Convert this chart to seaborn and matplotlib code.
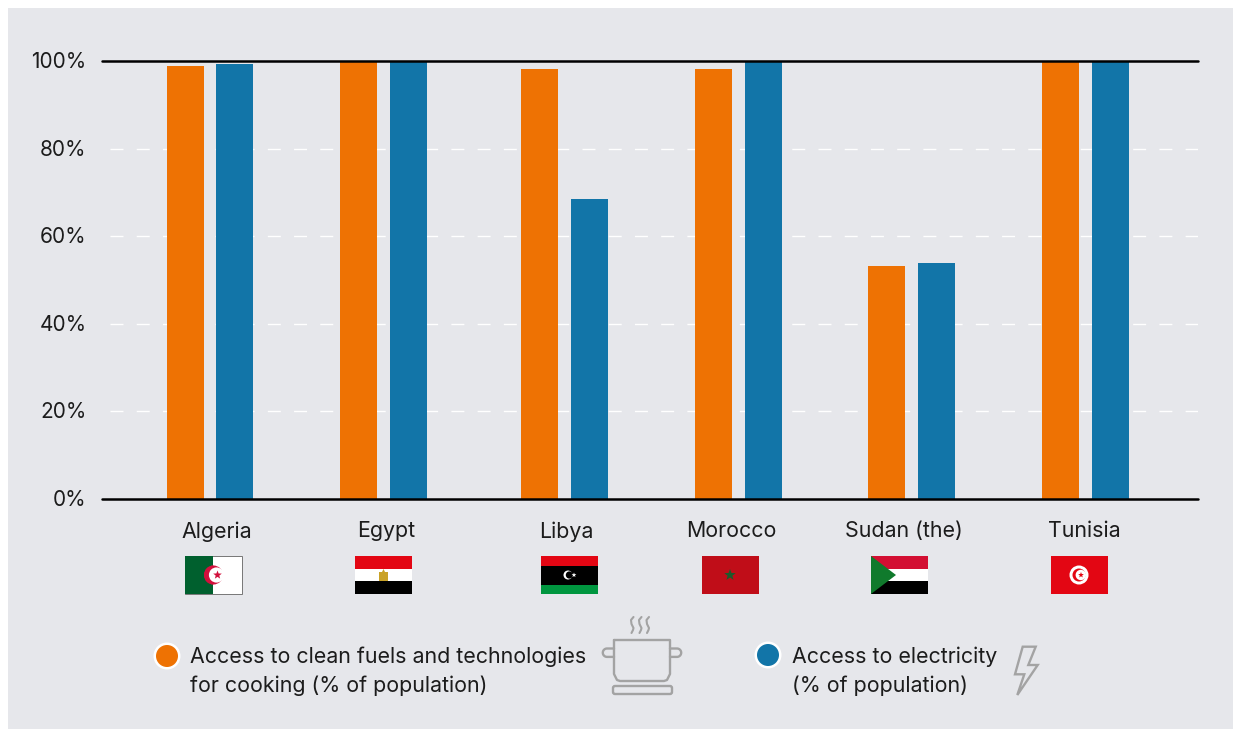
import numpy as np
import pandas as pd
import matplotlib
matplotlib.use("Agg")
import matplotlib.pyplot as plt
from matplotlib.patches import Rectangle, Polygon, Circle, FancyBboxPatch, Wedge
from matplotlib.transforms import ScaledTranslation
import seaborn as sns

# ==============================
# DATA
# ==============================
countries = ["Algeria", "Egypt", "Libya", "Morocco", "Sudan (the)", "Tunisia"]
cooking = [98.9, 100, 98.2, 98.2, 53.1, 100]
electricity = [99.3, 100, 68.5, 100, 53.8, 100]
y_ticks = [0, 20, 40, 60, 80, 100]
series_names = ["Access to clean fuels and technologies\nfor cooking (% of population)",
                "Access to electricity\n(% of population)"]

ORANGE = "#ee7203"
BLUE = "#1275a8"
PANEL = "#e6e7eb"
TEXT = "#1c1c1c"
ICON = "#a3a3a3"
FS = 15.4

W, H = 1234, 729

df = pd.DataFrame({
    "country": countries * 2,
    "value": cooking + electricity,
    "series": [series_names[0]] * 6 + [series_names[1]] * 6,
})

sns.set_theme(style="white")
plt.rcParams["font.family"] = ["Inter", "DejaVu Sans"]

fig = plt.figure(figsize=(W / 100, H / 100), dpi=100, facecolor="white")

# ==============================
# BACKGROUND LAYER (pixel coordinates)
# ==============================
bg = fig.add_axes([0, 0, 1, 1], zorder=0)
bg.set_xlim(0, W)
bg.set_ylim(H, 0)
bg.axis("off")
bg.add_patch(Rectangle((8, 8), W - 9, H - 8, color=PANEL, lw=0))

# ==============================
# BARS
# ==============================
left, right, top, base = 102, 1198, 61, 498.5
ax = fig.add_axes([left / W, 1 - base / H, (right - left) / W, (base - top) / H], zorder=1)
ax.patch.set_alpha(0)

sns.barplot(data=df, x="country", y="value", hue="series", order=countries,
            hue_order=series_names, palette=[ORANGE, BLUE], width=0.565, gap=0.253,
            saturation=1, legend=False, ax=ax, zorder=2, linewidth=0)

first_px, step_px = 209, 175.2
ax.set_xlim((left - first_px) / step_px, (right - first_px) / step_px)
ax.set_ylim(0, 100)

# groups are not quite evenly spaced in the original
nudge_px = [1, -0.5, 5, 4, 1.7, 0.5]
for container in ax.containers:
    for bar, n in zip(container, nudge_px):
        bar.set_x(bar.get_x() + n / step_px)

# country labels sit a little off the bar centres
label_px = [217, 386, 566, 731, 904, 1084]
ax.set_xticks([(p - first_px) / step_px for p in label_px])
ax.set_xticklabels(countries)
ax.set_yticks(y_ticks)
ax.set_yticklabels([f"{v}%" for v in y_ticks])
ax.tick_params(axis="x", length=0, pad=16.5, labelsize=FS, labelcolor=TEXT)
ax.tick_params(axis="y", length=0, pad=11, labelsize=15, labelcolor=TEXT)
ax.set_xlabel("")
ax.set_ylabel("")

# y labels sit slightly above their gridlines
lift = ScaledTranslation(0, 0.7 / 100, fig.dpi_scale_trans)
for lab in ax.get_yticklabels():
    lab.set_transform(lab.get_transform() + lift)

for s in ["left", "right", "top", "bottom"]:
    ax.spines[s].set_visible(False)

# dashed white grid, solid black at 0 and 100
for v in y_ticks[1:-1]:
    ax.axhline(v, color="white", lw=1.0, ls=(13.12, (9.35, 9.53)), zorder=1)
ax.axhline(0, color="black", lw=1.8, zorder=3, clip_on=False)
ax.axhline(100, color="black", lw=1.8, zorder=3, clip_on=False)


# ==============================
# FLAGS
# ==============================
def stripes(x, colors, y=556, w=57, h=38, shares=None):
    shares = shares or [1 / len(colors)] * len(colors)
    cur = y
    for c, s in zip(colors, shares):
        bg.add_patch(Rectangle((x, cur), w, h * s, color=c, lw=0))
        cur += h * s


def crescent(cx, cy, r, color, cover, shift):
    bg.add_patch(Circle((cx, cy), r, color=color, lw=0))
    bg.add_patch(Circle((cx + shift, cy), r * 0.8, color=cover, lw=0))


def star(cx, cy, r, color):
    angles = np.deg2rad(-90 + 36 * np.arange(10))
    radii = np.where(np.arange(10) % 2 == 0, r, r * 0.42)
    bg.add_patch(Polygon(np.c_[cx + radii * np.cos(angles), cy + radii * np.sin(angles)],
                         color=color, lw=0))


# Algeria
bg.add_patch(Rectangle((185, 556), 57, 38, facecolor="white", edgecolor="#777777", lw=0.7))
bg.add_patch(Rectangle((185, 556), 28, 38, color="#00602e", lw=0))
crescent(213.5, 575, 9.5, "#d2103c", "white", 3)
bg.add_patch(Wedge((213.5, 575), 9.5, 90, 270, width=2, color="#d2103c", lw=0))
star(217.5, 575, 4.5, "#d2103c")

# Egypt
stripes(355, ["#e30613", "white", "black"])
bg.add_patch(Polygon([(379, 581), (379, 572), (382, 572), (383.5, 569), (385, 572), (388, 572), (388, 581)],
                     color="#c9a227", lw=0))

# Libya
stripes(541, ["#e30613", "black", "#00963f"], shares=[0.25, 0.5, 0.25])
crescent(568, 575, 4.5, "white", "black", 1.4)
star(574, 575, 2.5, "white")

# Morocco
stripes(702, ["#c00d18"])
star(730, 575, 6, "#1d5a2b")

# Sudan
stripes(871, ["#d30f32", "white", "black"])
bg.add_patch(Polygon([(871, 556), (896, 575), (871, 594)], color="#107a2c", lw=0))

# Tunisia
stripes(1051, ["#e30613"])
bg.add_patch(Circle((1079, 575), 9.5, color="white", lw=0))
crescent(1079, 575, 6.5, "#e30613", "white", 1.8)
star(1081, 575, 3, "#e30613")

# ==============================
# LEGEND
# ==============================
for cx, cy, c in [(167, 656, ORANGE), (768, 655, BLUE)]:
    bg.add_patch(Circle((cx, cy), 13.5, color="white", lw=0))
    bg.add_patch(Circle((cx, cy), 11, color=c, lw=0))

bg.text(190, 671.5, series_names[0], fontsize=FS, color=TEXT, va="center", ha="left", linespacing=1.52)
bg.text(792, 671, series_names[1], fontsize=FS, color=TEXT, va="center", ha="left", linespacing=1.52)

# ==============================
# ICONS
# ==============================
lw = 1.7
# pot
bg.plot([614, 614, 617, 620, 664, 667, 670, 670, 614], [640, 674, 680, 681, 681, 680, 674, 640, 640],
        color=ICON, lw=lw, solid_joinstyle="round")
# handles, open towards the pot
th = np.linspace(np.pi / 2, 3 * np.pi / 2, 20)
bg.plot(np.r_[614, 607 + 4.2 * np.cos(th), 614], np.r_[648.5, 652.7 - 4.2 * np.sin(th), 656.9],
        color=ICON, lw=lw)
bg.plot(np.r_[670, 677 - 4.2 * np.cos(th), 670], np.r_[648.5, 652.7 - 4.2 * np.sin(th), 656.9],
        color=ICON, lw=lw)
bg.add_patch(FancyBboxPatch((615, 688), 55, 4, boxstyle="round,pad=2", fc="none", ec=ICON, lw=lw))
# steam
t = [617, 620, 624, 628, 630, 633]
for x0 in [632, 640, 647.5]:
    bg.plot([x0 + 1.5, x0 - 1, x0 - 0.5, x0 + 1.5, x0 + 1, x0 - 0.5], t, color=ICON, lw=1.5)
# lightning
bg.add_patch(Polygon([(1022.7, 646.7), (1035.7, 646.7), (1028.3, 665), (1037.7, 665),
                      (1017.3, 695), (1024.3, 674.3), (1015, 674.3)],
                     closed=True, fc="none", ec=ICON, lw=lw, joinstyle="miter"))

fig.savefig("out.png", dpi=100, facecolor="white")
